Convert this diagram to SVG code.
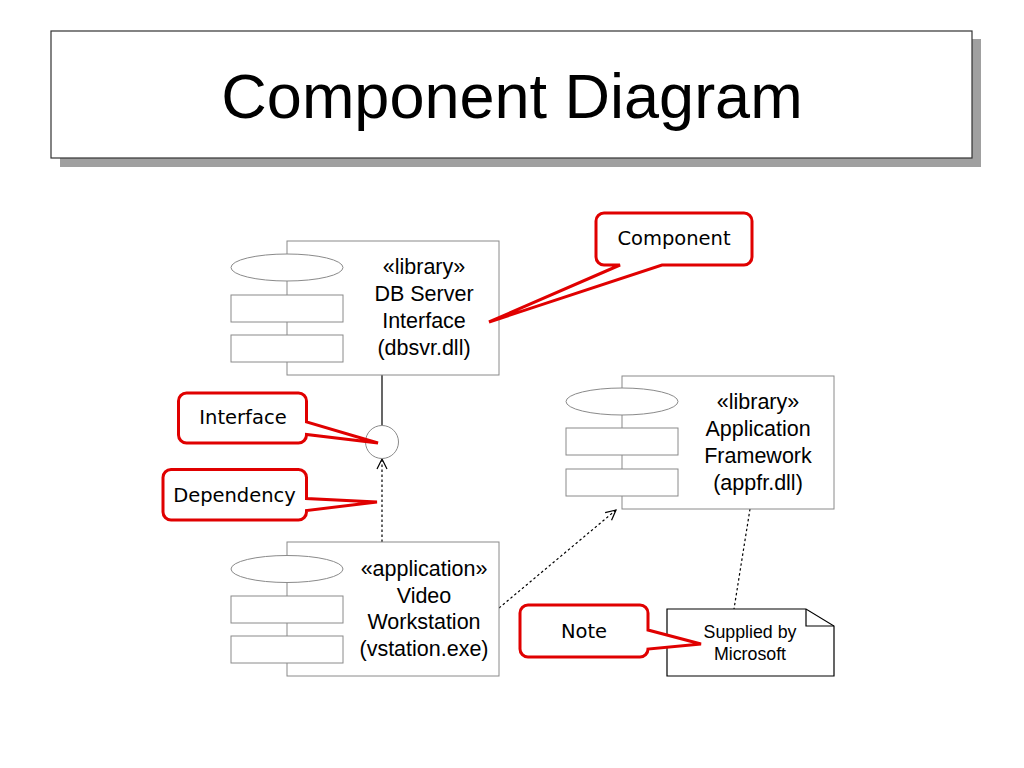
<svg xmlns="http://www.w3.org/2000/svg" width="1024" height="768" viewBox="0 0 1024 768">
<defs>
<style>
.comp{fill:#fff;stroke:#8a8a8a;stroke-width:1}
.lbl{font-family:"Liberation Sans",Arial,sans-serif;font-size:21.5px;fill:#000;text-anchor:middle}
.call{fill:#fff;stroke:#e00000;stroke-width:3;stroke-linejoin:miter}
.ctext{font-family:"DejaVu Sans",Verdana,sans-serif;font-size:19.5px;fill:#000;text-anchor:middle}
.dot{fill:none;stroke:#000;stroke-width:1.2;stroke-dasharray:2.5,2.5}
.note{font-family:"Liberation Sans",Arial,sans-serif;font-size:17.8px;fill:#000;text-anchor:middle}
</style>
<marker id="open" viewBox="0 0 12 12" refX="11" refY="6" markerUnits="userSpaceOnUse" markerWidth="12" markerHeight="12" orient="auto">
<path d="M1,1 L11,6 L1,11" fill="none" stroke="#000" stroke-width="1.2"/>
</marker>
</defs>
<rect width="1024" height="768" fill="#fff"/>

<g id="title">
<rect x="60" y="39" width="921" height="128" fill="#a0a0a0"/>
<rect x="51" y="31" width="921" height="127" fill="#fff" stroke="#333" stroke-width="1.2"/>
<text x="512" y="118" font-family="'Liberation Sans',Arial,sans-serif" font-size="63" text-anchor="middle" fill="#000">Component Diagram</text>
</g>

<g id="connectors">
<line x1="382" y1="375" x2="382" y2="425.5" stroke="#000" stroke-width="1.2"/>
<line class="dot" x1="382" y1="542" x2="382" y2="459" marker-end="url(#open)"/>
<line class="dot" x1="499" y1="608" x2="616" y2="510" marker-end="url(#open)"/>
<line class="dot" x1="750" y1="509" x2="734" y2="609"/>
</g>

<g id="interface">
<circle cx="382" cy="442" r="16.5" fill="#fff" stroke="#8a8a8a" stroke-width="1"/>
</g>

<g id="db-server">
<rect class="comp" x="287" y="241" width="212" height="134"/>
<ellipse class="comp" cx="287" cy="267.5" rx="56" ry="13.5"/>
<rect class="comp" x="231" y="295" width="112" height="27"/>
<rect class="comp" x="231" y="335" width="112" height="27"/>
<text class="lbl" x="424" y="274">«library»</text>
<text class="lbl" x="424" y="301">DB Server</text>
<text class="lbl" x="424" y="328">Interface</text>
<text class="lbl" x="424" y="355">(dbsvr.dll)</text>
</g>

<g id="app-framework">
<rect class="comp" x="622" y="376" width="212" height="133"/>
<ellipse class="comp" cx="622" cy="401.5" rx="56" ry="13.5"/>
<rect class="comp" x="566" y="428" width="112" height="27"/>
<rect class="comp" x="566" y="469" width="112" height="27"/>
<text class="lbl" x="758" y="409">«library»</text>
<text class="lbl" x="758" y="436">Application</text>
<text class="lbl" x="758" y="463">Framework</text>
<text class="lbl" x="758" y="490">(appfr.dll)</text>
</g>

<g id="video-workstation">
<rect class="comp" x="287" y="542" width="212" height="134"/>
<ellipse class="comp" cx="287" cy="569" rx="56" ry="13.5"/>
<rect class="comp" x="231" y="596" width="112" height="27"/>
<rect class="comp" x="231" y="636" width="112" height="27"/>
<text class="lbl" x="424" y="576">«application»</text>
<text class="lbl" x="424" y="603">Video</text>
<text class="lbl" x="424" y="629">Workstation</text>
<text class="lbl" x="424" y="656">(vstation.exe)</text>
</g>

<g id="note">
<path d="M667,609 H806 L834,626 V676 H667 Z" fill="#fff" stroke="#000" stroke-width="1.2"/>
<path d="M806,609 V626 H834" fill="none" stroke="#000" stroke-width="1.2"/>
<text class="note" x="750" y="638">Supplied by</text>
<text class="note" x="750" y="660">Microsoft</text>
</g>

<g id="callout-component">
<path class="call" d="M604,213 H744 A8,8 0 0 1 752,221 V257 A8,8 0 0 1 744,265 H662 L489,322 L620,265 H604 A8,8 0 0 1 596,257 V221 A8,8 0 0 1 604,213 Z"/>
<text class="ctext" x="674" y="245">Component</text>
</g>

<g id="callout-interface">
<path class="call" d="M186.5,393 H298.5 A8,8 0 0 1 306.5,401 V422 L378,443 L306.5,434.5 V435 A8,8 0 0 1 298.5,443 H186.5 A8,8 0 0 1 178.5,435 V401 A8,8 0 0 1 186.5,393 Z"/>
<text class="ctext" x="243" y="424">Interface</text>
</g>

<g id="callout-dependency">
<path class="call" d="M171,469.5 H298.5 A8,8 0 0 1 306.5,477.5 V498.5 L377,502 L306.5,510.5 V512 A8,8 0 0 1 298.5,520 H171 A8,8 0 0 1 163,512 V477.5 A8,8 0 0 1 171,469.5 Z"/>
<text class="ctext" x="234.5" y="501.5">Dependency</text>
</g>

<g id="callout-note">
<path class="call" d="M528,605 H640 A8,8 0 0 1 648,613 V630 L701,644 L648,649 A8,8 0 0 1 640,657 H528 A8,8 0 0 1 520,649 V613 A8,8 0 0 1 528,605 Z"/>
<text class="ctext" x="584" y="638">Note</text>
</g>
</svg>
